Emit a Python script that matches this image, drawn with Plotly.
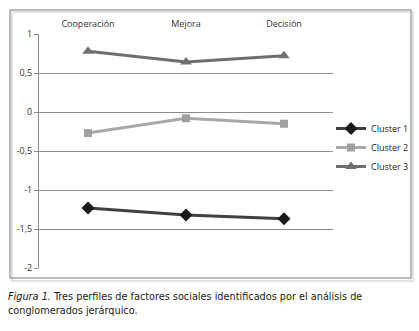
import plotly.graph_objects as go

categories = ["Cooperación", "Mejora", "Decisión"]
cluster1 = [-1.23, -1.32, -1.37]
cluster2 = [-0.27, -0.08, -0.15]
cluster3 = [0.78, 0.64, 0.72]
ytick_vals = [1, 0.5, 0, -0.5, -1, -1.5, -2]
ytick_text = ["1", "0,5", "0", "-0,5", "-1", "-1,5", "-2"]
caption = "<i>Figura 1.</i> Tres perfiles de factores sociales identificados por el análisis de<br>conglomerados jerárquico."

W, H = 419, 331
L, R, T, B = 39, 333, 34, 268  # plot area in pixels


def px(x):
    return (x - L) / (R - L)


def py(y):
    return (B - y) / (B - T)


fig = go.Figure()
fig.add_trace(go.Scatter(x=categories, y=cluster1, name="Cluster 1", mode="lines+markers",
                         line=dict(color="#404040", width=3),
                         marker=dict(symbol="diamond", size=10, color="#1a1a1a")))
fig.add_trace(go.Scatter(x=categories, y=cluster2, name="Cluster 2", mode="lines+markers",
                         line=dict(color="#a8a8a8", width=3),
                         marker=dict(symbol="square", size=8, color="#a0a0a0")))
fig.add_trace(go.Scatter(x=categories, y=cluster3, name="Cluster 3", mode="lines+markers",
                         line=dict(color="#6e6e6e", width=3),
                         marker=dict(symbol="triangle-up", size=10, color="#707070")))

grid = "#8c8c8c"
fig.update_layout(
    width=W, height=H,
    margin=dict(l=L, r=W - R, t=T, b=H - B, autoexpand=False),
    paper_bgcolor="white", plot_bgcolor="white",
    font=dict(family="Open Sans, Noto Sans, sans-serif", size=9, color="#333333"),
    showlegend=True,
    legend=dict(x=px(331), y=py(114), xanchor="left", yanchor="top",
                font=dict(size=9, color="#222222"), itemwidth=30,
                tracegroupgap=0, bgcolor="rgba(0,0,0,0)"),
    xaxis=dict(type="category", categoryorder="array", categoryarray=categories,
               range=[-0.5, 2.5], side="top", showline=False, showgrid=False,
               ticks="", tickfont=dict(size=9, color="#333333"), zeroline=False,
               automargin=False, ticklabelstandoff=4),
    xaxis2=dict(overlaying="x", anchor="free", position=py(112), side="bottom",
                range=[-0.5, 2.5], tickvals=[-0.5, 0.5, 1.5, 2.5], ticks="outside",
                ticklen=4, tickcolor=grid, showline=True, linecolor=grid, linewidth=1,
                showticklabels=False, showgrid=False, zeroline=False, automargin=False),
    yaxis=dict(range=[-2, 1], tickvals=ytick_vals, ticktext=ytick_text,
               showgrid=True, gridcolor=grid, gridwidth=1, showline=True,
               linecolor=grid, ticks="outside", ticklen=4, tickcolor=grid,
               zeroline=False, tickfont=dict(size=9, color="#333333"), automargin=False),
    shapes=[
        dict(type="rect", xref="paper", yref="paper", x0=px(12), x1=px(413),
             y0=py(281), y1=py(12), line=dict(color="#e2e2e2", width=2), layer="below"),
        dict(type="rect", xref="paper", yref="paper", x0=px(10), x1=px(411),
             y0=py(278), y1=py(10), line=dict(color="#a6a6a6", width=1.5), layer="below"),
    ],
    annotations=[
        dict(text=caption, xref="paper", yref="paper", x=px(6), y=py(288),
             xanchor="left", yanchor="top", align="left", showarrow=False,
             font=dict(family="DejaVu Sans Condensed, Liberation Sans Narrow, Liberation Sans, sans-serif",
                       size=10.8, color="#1a1a1a")),
    ],
)

fig.write_html("out.html", config={"displayModeBar": False},
               post_script="document.body.style.margin='0';")
